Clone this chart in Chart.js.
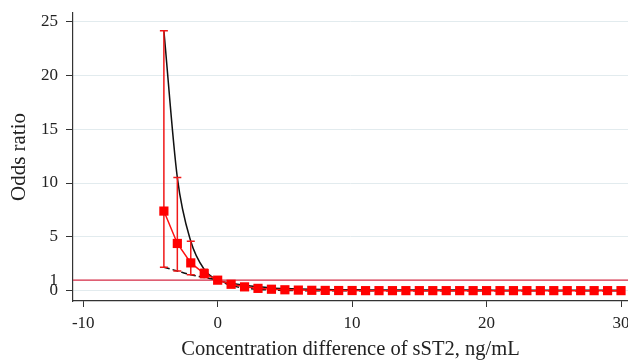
<!DOCTYPE html>
<html>
<head>
<meta charset="utf-8">
<script src="https://cdn.jsdelivr.net/npm/chart.js@4/dist/chart.umd.min.js"></script>
<style>
  html, body { margin: 0; padding: 0; background: #fff; }
  canvas { display: block; }
</style>
</head>
<body>
<canvas id="grafico" width="628" height="362"></canvas>
<script>
// === DADOS ===
const diferencas = [-4, -3, -2, -1, 0, 1, 2, 3, 4, 5, 6, 7, 8, 9, 10, 11, 12, 13, 14, 15, 16, 17, 18, 19, 20, 21, 22, 23, 24, 25, 26, 27, 28, 29, 30];
const oddsRatio = [7.4, 4.4, 2.6, 1.6, 1.0, 0.62, 0.38, 0.24, 0.16, 0.11, 0.08, 0.06, 0.05, 0.04, 0.04, 0.03, 0.03, 0.03, 0.03, 0.03, 0.03, 0.03, 0.03, 0.03, 0.03, 0.03, 0.03, 0.03, 0.03, 0.03, 0.03, 0.03, 0.03, 0.03, 0.03];
const icSuperior = [24.1, 10.5, 4.6, 2.0, 1.0, 0.72, 0.52, 0.38, 0.28, 0.22, 0.18, 0.15, 0.13, 0.12, 0.11, 0.10, 0.10, 0.09, 0.09, 0.09, 0.08, 0.08, 0.08, 0.08, 0.08, 0.07, 0.07, 0.07, 0.07, 0.07, 0.07, 0.07, 0.07, 0.07, 0.07];
const icInferior = [2.2, 1.85, 1.5, 1.25, 1.0, 0.5, 0.27, 0.15, 0.09, 0.05, 0.03, 0.02, 0.01, 0.01, 0.01, 0.01, 0.01, 0.01, 0.01, 0.01, 0.01, 0.01, 0.01, 0.01, 0.01, 0.01, 0.01, 0.01, 0.01, 0.01, 0.01, 0.01, 0.01, 0.01, 0.01];
const linhaReferencia = 1;
const ticksX = [-10, 0, 10, 20, 30];
const ticksY = [0, 1, 5, 10, 15, 20, 25];
const limitesX = [-10.76, 30.52];
const limitesY = [-0.93, 25.75];

const fonte = "'Liberation Serif', 'DejaVu Serif', serif";
const corTexto = '#222';
const corEixo = '#333';

const pontos = arr => diferencas.map((x, i) => ({ x: x, y: arr[i] }));

// === BARRAS DE ERRO ===
const barrasErro = {
  id: 'barrasErro',
  beforeDatasetDraw(chart, args) {
    if (args.index !== 0) return;
    const { ctx, scales: { x, y } } = chart;
    ctx.save();
    ctx.strokeStyle = '#f01818';
    ctx.lineWidth = 1.5;
    diferencas.forEach((d, i) => {
      if (icSuperior[i] - icInferior[i] < 0.3) return;
      const px = x.getPixelForValue(d);
      const yTop = y.getPixelForValue(icSuperior[i]);
      const yBot = y.getPixelForValue(icInferior[i]);
      ctx.beginPath();
      ctx.moveTo(px, yTop); ctx.lineTo(px, yBot);
      ctx.moveTo(px - 4, yTop); ctx.lineTo(px + 4, yTop);
      ctx.moveTo(px - 4, yBot); ctx.lineTo(px + 4, yBot);
      ctx.stroke();
    });
    ctx.restore();
  }
};

new Chart(document.getElementById('grafico'), {
  type: 'line',
  data: {
    datasets: [
      {
        label: 'OR',
        data: pontos(oddsRatio),
        borderColor: '#ff1010',
        backgroundColor: '#ff0000',
        borderWidth: 1.5,
        pointStyle: 'rect',
        pointRadius: 6.5,
        pointBorderWidth: 0,
        tension: 0
      },
      {
        label: 'IC superior',
        data: pontos(icSuperior),
        borderColor: '#111',
        borderWidth: 1.5,
        pointRadius: 0,
        cubicInterpolationMode: 'monotone'
      },
      {
        label: 'IC inferior',
        data: pontos(icInferior),
        borderColor: '#111',
        borderWidth: 1.5,
        borderDash: [6, 3],
        pointRadius: 0,
        cubicInterpolationMode: 'monotone'
      },
      {
        label: 'Referência',
        data: limitesX.map(x => ({ x: x, y: linhaReferencia })),
        borderColor: '#d42a45',
        borderWidth: 1.2,
        pointRadius: 0
      }
    ]
  },
  options: {
    responsive: false,
    animation: false,
    layout: { autoPadding: false, padding: { top: 13, right: 0, bottom: 0, left: 0 } },
    plugins: { legend: { display: false }, tooltip: { enabled: false } },
    scales: {
      x: {
        type: 'linear',
        min: limitesX[0],
        max: limitesX[1],
        afterBuildTicks: s => { s.ticks = ticksX.map(v => ({ value: v })); },
        afterFit: s => { s.height = 61; s.paddingLeft = 0; s.paddingRight = 0; },
        grid: { drawOnChartArea: false, tickLength: 6, tickColor: corEixo },
        border: { color: corEixo, width: 1.2 },
        ticks: { color: corTexto, font: { family: fonte, size: 17 }, padding: 6, maxRotation: 0 },
        title: {
          display: true,
          text: 'Concentration difference of sST2, ng/mL',
          color: corTexto,
          font: { family: fonte, size: 20.5 },
          padding: { top: 0, bottom: 0 }
        }
      },
      y: {
        type: 'linear',
        min: limitesY[0],
        max: limitesY[1],
        afterBuildTicks: s => { s.ticks = ticksY.map(v => ({ value: v })); },
        afterFit: s => { s.width = 73; s.paddingTop = 0; s.paddingBottom = 0; },
        grid: {
          color: c => (c.tick && c.tick.value === 1) ? 'rgba(0,0,0,0)' : '#e2ebee',
          tickColor: c => (c.tick && c.tick.value === 1) ? 'rgba(0,0,0,0)' : corEixo,
          tickLength: 7,
          lineWidth: 1
        },
        border: { color: corEixo, width: 1.2 },
        ticks: { color: corTexto, font: { family: fonte, size: 17 }, padding: 8 },
        title: {
          display: true,
          text: 'Odds ratio',
          color: corTexto,
          font: { family: fonte, size: 21 },
          padding: { top: 7, bottom: 0 }
        }
      }
    }
  },
  plugins: [barrasErro]
});
</script>
</body>
</html>
